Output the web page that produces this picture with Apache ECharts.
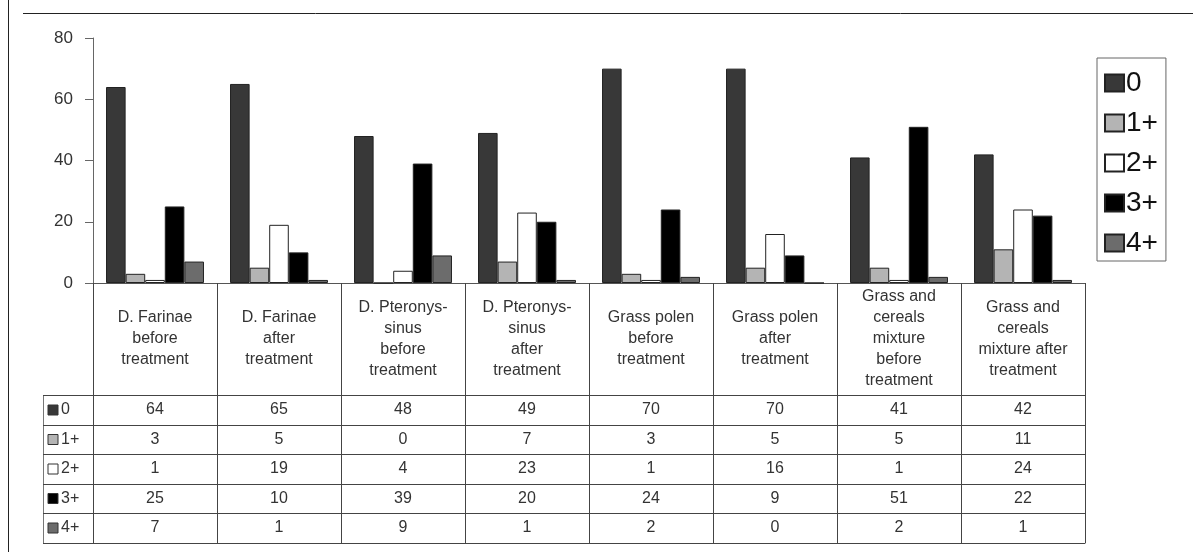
<!DOCTYPE html>
<html>
<head>
<meta charset="utf-8">
<script src="https://cdn.jsdelivr.net/npm/echarts@6/dist/echarts.min.js"></script>
<style>
  html, body { margin: 0; padding: 0; background: #fff; }
  #chart { width: 1193px; height: 552px; }
</style>
</head>
<body>
<div id="chart"></div>
<script>
// ---- data ----
const categories = [
  'D. Farinae\nbefore\ntreatment',
  'D. Farinae\nafter\ntreatment',
  'D. Pteronys-\nsinus\nbefore\ntreatment',
  'D. Pteronys-\nsinus\nafter\ntreatment',
  'Grass polen\nbefore\ntreatment',
  'Grass polen\nafter\ntreatment',
  'Grass and\ncereals\nmixture\nbefore\ntreatment',
  'Grass and\ncereals\nmixture after\ntreatment'
];
const seriesNames = ['0', '1+', '2+', '3+', '4+'];
const grade0 = [64, 65, 48, 49, 70, 70, 41, 42];
const grade1 = [3, 5, 0, 7, 3, 5, 5, 11];
const grade2 = [1, 19, 4, 23, 1, 16, 1, 24];
const grade3 = [25, 10, 39, 20, 24, 9, 51, 22];
const grade4 = [7, 1, 9, 1, 2, 0, 2, 1];
const yMin = 0, yMax = 80, yStep = 20;

// ---- styling / layout ----
const seriesData = [grade0, grade1, grade2, grade3, grade4];
const colors = ['#383838', '#b4b4b4', '#ffffff', '#000000', '#6c6c6c'];
const FONT = '"Liberation Sans", Arial, sans-serif';
const GL = 93, GR = 1085, GT = 38, GB = 283;
const rowLines = [395, 425, 454, 484, 513, 543];
const TABLE_LEFT = 43;

const chart = echarts.init(document.getElementById('chart'), null, { renderer: 'canvas' });

const xAxes = [{
  type: 'category',
  data: categories,
  gridIndex: 0,
  position: 'bottom',
  axisLine: { show: true, lineStyle: { color: '#555', width: 1 } },
  axisTick: { show: true, interval: 0, length: rowLines[rowLines.length - 1] - GB, lineStyle: { color: '#444', width: 1 } },
  axisLabel: {
    interval: 0, verticalAlign: 'middle', margin: (rowLines[0] - GB) / 2,
    fontSize: 16, lineHeight: 21, color: '#333', fontFamily: FONT, align: 'center'
  },
  splitLine: { show: false }
}];
seriesData.forEach((vals, i) => {
  xAxes.push({
    type: 'category',
    data: categories,
    gridIndex: 0,
    position: 'bottom',
    offset: rowLines[i] - GB,
    axisLine: { show: true, lineStyle: { color: '#444', width: 1 } },
    axisTick: { show: false },
    axisLabel: {
      interval: 0, verticalAlign: 'middle', margin: (rowLines[i + 1] - rowLines[i]) / 2,
      fontSize: 16, color: '#333', fontFamily: FONT,
      formatter: (v, idx) => String(vals[idx])
    },
    splitLine: { show: false }
  });
});
xAxes.push({
  type: 'category', data: categories, gridIndex: 0, position: 'bottom',
  offset: rowLines[rowLines.length - 1] - GB,
  axisLine: { show: true, lineStyle: { color: '#444', width: 1 } },
  axisTick: { show: false }, axisLabel: { show: false }, splitLine: { show: false }
});

// frame + table row-header graphics (legend keys for the data table)
const graphics = [
  { type: 'line', shape: { x1: 8.5, y1: 0, x2: 8.5, y2: 552 }, style: { stroke: '#222', lineWidth: 1 } },
  { type: 'line', shape: { x1: 23, y1: 13.5, x2: 1193, y2: 13.5 }, style: { stroke: '#222', lineWidth: 1 } },
  { type: 'line', shape: { x1: TABLE_LEFT + 0.5, y1: rowLines[0], x2: TABLE_LEFT + 0.5, y2: rowLines[rowLines.length - 1] }, style: { stroke: '#777', lineWidth: 1 } }
];
rowLines.forEach(y => {
  graphics.push({ type: 'line', shape: { x1: TABLE_LEFT, y1: y + 0.5, x2: GL, y2: y + 0.5 }, style: { stroke: '#444', lineWidth: 1 } });
});
seriesNames.forEach((name, i) => {
  const cy = (rowLines[i] + rowLines[i + 1]) / 2;
  graphics.push({ type: 'rect', shape: { x: 48, y: cy - 5, width: 10, height: 10 }, style: { fill: colors[i], stroke: '#333', lineWidth: 1 } });
  graphics.push({ type: 'text', x: 61, y: cy, style: { text: name, fontSize: 16, fontFamily: FONT, fill: '#333', textVerticalAlign: 'middle', verticalAlign: 'middle' } });
});

const option = {
  backgroundColor: '#ffffff',
  animation: false,
  textStyle: { fontFamily: FONT },
  grid: { left: GL, right: 1193 - GR, top: GT, bottom: 552 - GB, containLabel: false },
  legend: {
    data: seriesNames,
    orient: 'vertical',
    left: 1097, top: 58,
    padding: [11, 8, 4, 7],
    itemWidth: 19, itemHeight: 17, itemGap: 12,
    borderColor: '#666', borderWidth: 1,
    textStyle: { fontSize: 28, color: '#111', fontFamily: FONT, padding: [0, 0, 0, -3] },
    icon: 'rect'
  },
  xAxis: xAxes,
  yAxis: {
    type: 'value', min: yMin, max: yMax, interval: yStep,
    axisLine: { show: true, lineStyle: { color: '#666' } },
    axisTick: { show: true, length: 8, lineStyle: { color: '#666' } },
    axisLabel: { fontSize: 17, color: '#333', margin: 20, fontFamily: FONT },
    splitLine: { show: false }
  },
  series: seriesNames.map((name, i) => ({
    name: name,
    type: 'bar',
    xAxisIndex: 0,
    yAxisIndex: 0,
    data: seriesData[i],
    barGap: '0%',
    barCategoryGap: '21%',
    itemStyle: { color: colors[i], borderColor: '#222', borderWidth: 1 }
  })),
  graphic: graphics
};
chart.setOption(option);
</script>
</body>
</html>
